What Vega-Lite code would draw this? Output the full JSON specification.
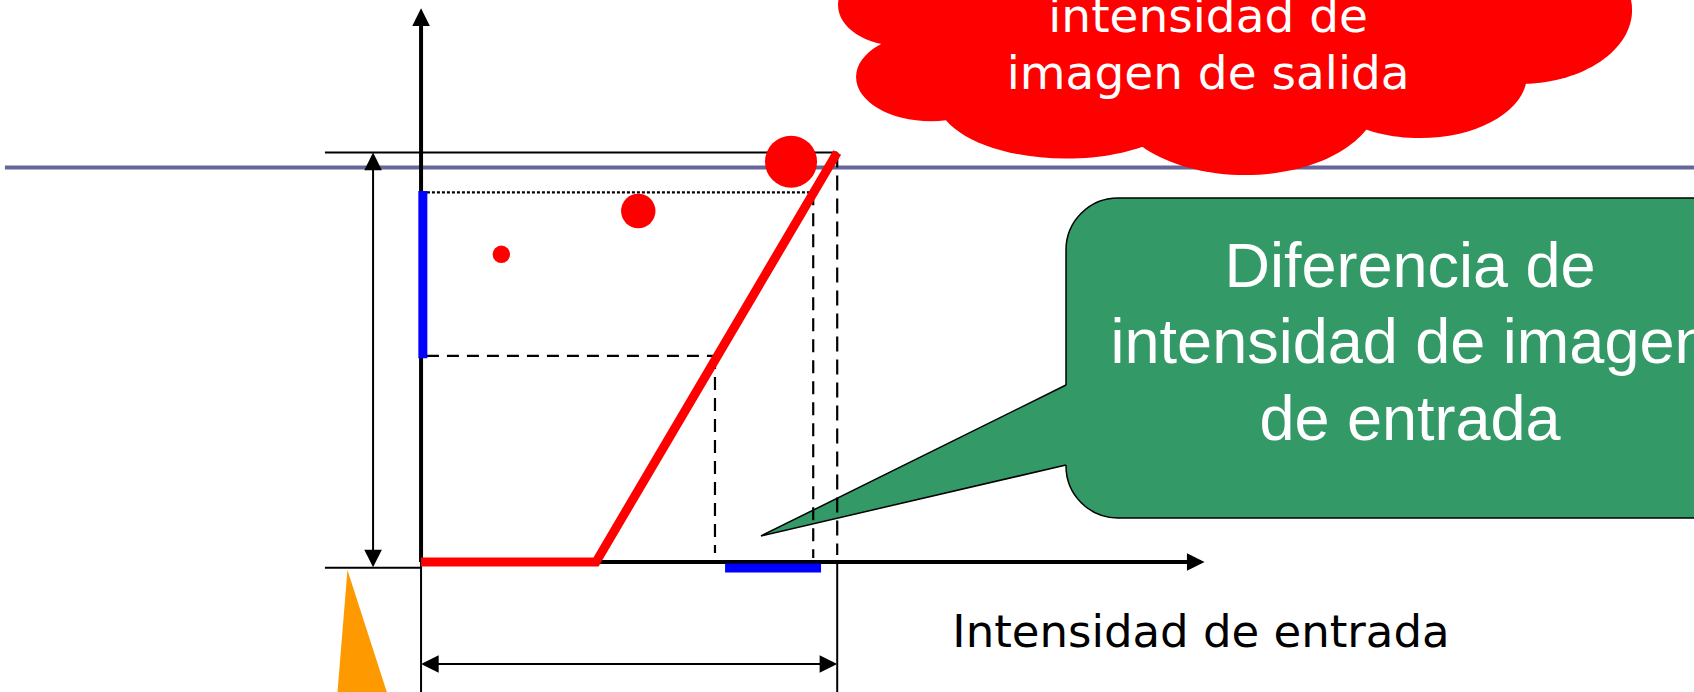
{
  "$schema": "https://vega.github.io/schema/vega-lite/v6.json",
  "width": 1694,
  "height": 692,
  "padding": 0,
  "autosize": {"type": "none", "contains": "padding"},
  "background": "white",
  "config": {"view": {"stroke": null}},
  "datasets": {
    "segs": [
      {"kind": "purple", "x": -255, "y": 245.7, "x2": 780, "y2": 245.7},
      {"kind": "thin", "x": -58.9, "y": 255, "x2": 255, "y2": 255},
      {"kind": "thin", "x": -58.9, "y": -3.6, "x2": 0, "y2": -3.6},
      {"kind": "thin", "x": -29.4, "y": 250, "x2": -29.4, "y2": 1},
      {"kind": "thin", "x": 4, "y": -63.6, "x2": 251, "y2": -63.6},
      {"kind": "thin", "x": 0, "y": 0, "x2": 0, "y2": -81},
      {"kind": "thin", "x": 255, "y": 0, "x2": 255, "y2": -81},
      {"kind": "dashL", "x": 255, "y": 255, "x2": 255, "y2": 4.3},
      {"kind": "dashV", "x": 240.3, "y": 230.2, "x2": 240.3, "y2": 2.5},
      {"kind": "dashV", "x": 180.1, "y": 128.3, "x2": 180.1, "y2": 5.6},
      {"kind": "dashH", "x": 3.6, "y": 128.3, "x2": 180.1, "y2": 128.3},
      {"kind": "dot", "x": 3.6, "y": 230.2, "x2": 240.3, "y2": 230.2},
      {"kind": "axis", "x": 0, "y": 0, "x2": 0, "y2": 336},
      {"kind": "axis", "x": 0, "y": 0, "x2": 470, "y2": 0},
      {"kind": "blue", "x": 1.1, "y": 126.8, "x2": 1.1, "y2": 231.0},
      {"kind": "blue", "x": 186.3, "y": -3.8, "x2": 245.1, "y2": -3.8}
    ],
    "transfer": [
      {"x": 0, "y": 0},
      {"x": 107.2, "y": 0},
      {"x": 255, "y": 255}
    ],
    "pixels": [
      {"x": 49.2, "y": 191.6, "d": 10.7},
      {"x": 133.1, "y": 218.6, "d": 21.1},
      {"x": 226.7, "y": 249.3, "d": 31.9}
    ],
    "heads": [
      {"x": 0, "y": 344.8, "dir": "up"},
      {"x": 480.1, "y": 0, "dir": "right"},
      {"x": -29.4, "y": 255, "dir": "up"},
      {"x": -29.4, "y": -3.3, "dir": "down"},
      {"x": 0, "y": -63.6, "dir": "left"},
      {"x": 255, "y": -63.6, "dir": "right"}
    ],
    "cloud": [
      {"x": 495.7, "y": 337.5, "w": 404.4, "k": "r27"},
      {"x": 293.5, "y": 346.9, "w": 76.0, "k": "r66"},
      {"x": 312.5, "y": 302.0, "w": 91.9, "k": "r59"},
      {"x": 395.2, "y": 289.0, "w": 158.1, "k": "r47"},
      {"x": 504.9, "y": 290.2, "w": 164.2, "k": "r59"},
      {"x": 612.1, "y": 303.3, "w": 131.1, "k": "r59"},
      {"x": 673.4, "y": 343.8, "w": 137.3, "k": "r66"}
    ],
    "box": [
      {"x": 395.2, "x2": 900, "y": 226.7, "y2": 27.4}
    ],
    "pointer": [
      {"x": 208.3, "y": 16.2, "y2": 16.2},
      {"x": 395.2, "y": 110.2, "y2": 60.4},
      {"x": 397.5, "y": 110.2, "y2": 60.4}
    ],
    "pointerEdge": [
      {"x": 395.2, "y": 110.2, "o": 1},
      {"x": 208.3, "y": 16.2, "o": 2},
      {"x": 395.2, "y": 60.4, "o": 3}
    ],
    "wedge": [
      {"y": -5.0, "x": -45.1, "x2": -45.1},
      {"y": -86.0, "x": -51.6, "x2": -19.4}
    ],
    "texts": [
      {"g": "green", "t": "Diferencia de", "x": 606.0, "y": 171.4},
      {"g": "green", "t": "intensidad de imagen", "x": 606.0, "y": 123.7},
      {"g": "green", "t": "de entrada", "x": 606.0, "y": 76.0},
      {"g": "cloud", "t": "intensidad de", "x": 482.3, "y": 330.3},
      {"g": "cloud", "t": "imagen de salida", "x": 482.3, "y": 294.4},
      {"g": "label", "t": "Intensidad de entrada", "x": 477.9, "y": -53.0}
    ]
  },
  "encoding": {
    "x": {"field": "x", "type": "quantitative", "scale": {"domain": [-258, 780], "nice": false, "zero": false}, "axis": null},
    "y": {"field": "y", "type": "quantitative", "scale": {"domain": [-81, 350], "nice": false, "zero": false}, "axis": null}
  },
  "resolve": {"scale": {"shape": "independent", "size": "independent"}},
  "layer": [
    {
      "data": {"name": "segs"},
      "transform": [{"filter": "datum.kind === 'purple'"}],
      "mark": {"type": "rule", "color": "#666699", "strokeWidth": 4},
      "encoding": {"x2": {"field": "x2"}, "y2": {"field": "y2"}}
    },
    {
      "data": {"name": "box"},
      "mark": {"type": "rect", "cornerRadius": 52, "fill": "#339966", "stroke": "black", "strokeWidth": 1.5},
      "encoding": {"x2": {"field": "x2"}, "y2": {"field": "y2"}}
    },
    {
      "data": {"name": "pointer"},
      "mark": {"type": "area", "orient": "vertical", "fill": "#339966", "opacity": 1, "strokeWidth": 0},
      "encoding": {"y2": {"field": "y2"}}
    },
    {
      "data": {"name": "pointerEdge"},
      "mark": {"type": "line", "color": "black", "strokeWidth": 1.5, "strokeJoin": "miter"},
      "encoding": {"order": {"field": "o", "type": "quantitative"}}
    },
    {
      "data": {"name": "texts"},
      "transform": [{"filter": "datum.g === 'green'"}],
      "mark": {"type": "text", "font": "Liberation Sans", "fontSize": 63, "color": "white", "align": "center", "baseline": "alphabetic"},
      "encoding": {"text": {"field": "t"}}
    },
    {
      "data": {"name": "cloud"},
      "mark": {"type": "point", "filled": true, "color": "#ff0000", "opacity": 1, "strokeWidth": 0},
      "encoding": {
        "shape": {"field": "k", "type": "nominal", "legend": null, "scale": {
          "domain": ["r66", "r59", "r47", "r27"],
          "range": [
            "M1,0C1,0.3645 0.5523,0.66 0,0.66C-0.5523,0.66 -1,0.3645 -1,0C-1,-0.3645 -0.5523,-0.66 0,-0.66C0.5523,-0.66 1,-0.3645 1,0Z",
            "M1,0C1,0.3259 0.5523,0.59 0,0.59C-0.5523,0.59 -1,0.3259 -1,0C-1,-0.3259 -0.5523,-0.59 0,-0.59C0.5523,-0.59 1,-0.3259 1,0Z",
            "M1,0C1,0.2596 0.5523,0.47 0,0.47C-0.5523,0.47 -1,0.2596 -1,0C-1,-0.2596 -0.5523,-0.47 0,-0.47C0.5523,-0.47 1,-0.2596 1,0Z",
            "M1,0C1,0.1491 0.5523,0.27 0,0.27C-0.5523,0.27 -1,0.1491 -1,0C-1,-0.1491 -0.5523,-0.27 0,-0.27C0.5523,-0.27 1,-0.1491 1,0Z"
          ]}},
        "size": {"field": "w", "type": "quantitative", "legend": null, "scale": {"type": "pow", "exponent": 2, "domain": [0, 100], "range": [0, 26634]}}
      }
    },
    {
      "data": {"name": "texts"},
      "transform": [{"filter": "datum.g === 'cloud'"}],
      "mark": {"type": "text", "font": "DejaVu Sans", "fontSize": 47, "color": "white", "align": "center", "baseline": "alphabetic"},
      "encoding": {"text": {"field": "t"}}
    },
    {
      "data": {"name": "segs"},
      "transform": [{"filter": "datum.kind === 'thin'"}],
      "mark": {"type": "rule", "color": "black", "strokeWidth": 2},
      "encoding": {"x2": {"field": "x2"}, "y2": {"field": "y2"}}
    },
    {
      "data": {"name": "segs"},
      "transform": [{"filter": "datum.kind === 'dashL'"}],
      "mark": {"type": "rule", "color": "black", "strokeWidth": 2.2, "strokeDash": [15, 8]},
      "encoding": {"x2": {"field": "x2"}, "y2": {"field": "y2"}}
    },
    {
      "data": {"name": "segs"},
      "transform": [{"filter": "datum.kind === 'dashV'"}],
      "mark": {"type": "rule", "color": "black", "strokeWidth": 2.2, "strokeDash": [13, 8]},
      "encoding": {"x2": {"field": "x2"}, "y2": {"field": "y2"}}
    },
    {
      "data": {"name": "segs"},
      "transform": [{"filter": "datum.kind === 'dashH'"}],
      "mark": {"type": "rule", "color": "black", "strokeWidth": 2.2, "strokeDash": [12, 8]},
      "encoding": {"x2": {"field": "x2"}, "y2": {"field": "y2"}}
    },
    {
      "data": {"name": "segs"},
      "transform": [{"filter": "datum.kind === 'dot'"}],
      "mark": {"type": "rule", "color": "black", "strokeWidth": 2.2, "strokeDash": [3, 2]},
      "encoding": {"x2": {"field": "x2"}, "y2": {"field": "y2"}}
    },
    {
      "data": {"name": "segs"},
      "transform": [{"filter": "datum.kind === 'axis'"}],
      "mark": {"type": "rule", "color": "black", "strokeWidth": 4},
      "encoding": {"x2": {"field": "x2"}, "y2": {"field": "y2"}}
    },
    {
      "data": {"name": "heads"},
      "mark": {"type": "point", "filled": true, "color": "black", "opacity": 1, "strokeWidth": 0, "size": 310},
      "encoding": {
        "shape": {"field": "dir", "type": "nominal", "legend": null, "scale": {
          "domain": ["up", "down", "left", "right"],
          "range": ["M0,0L-1,2L1,2Z", "M0,0L-1,-2L1,-2Z", "M0,0L2,-1L2,1Z", "M0,0L-2,-1L-2,1Z"]}}
      }
    },
    {
      "data": {"name": "transfer"},
      "mark": {"type": "line", "color": "#ff0000", "strokeWidth": 9, "strokeCap": "butt", "strokeJoin": "miter"},
      "encoding": {}
    },
    {
      "data": {"name": "segs"},
      "transform": [{"filter": "datum.kind === 'blue'"}],
      "mark": {"type": "rule", "color": "#0000ff", "strokeWidth": 9},
      "encoding": {"x2": {"field": "x2"}, "y2": {"field": "y2"}}
    },
    {
      "data": {"name": "pixels"},
      "mark": {"type": "point", "shape": "circle", "filled": true, "color": "#ff0000", "opacity": 1, "strokeWidth": 0},
      "encoding": {
        "size": {"field": "d", "type": "quantitative", "legend": null, "scale": {"type": "pow", "exponent": 2, "domain": [0, 100], "range": [0, 26634]}}
      }
    },
    {
      "data": {"name": "wedge"},
      "mark": {"type": "area", "orient": "horizontal", "fill": "#ff9900", "opacity": 1, "strokeWidth": 0},
      "encoding": {"x2": {"field": "x2"}}
    },
    {
      "data": {"name": "texts"},
      "transform": [{"filter": "datum.g === 'label'"}],
      "mark": {"type": "text", "font": "DejaVu Sans", "fontSize": 45, "color": "black", "align": "center", "baseline": "alphabetic"},
      "encoding": {"text": {"field": "t"}}
    }
  ]
}
